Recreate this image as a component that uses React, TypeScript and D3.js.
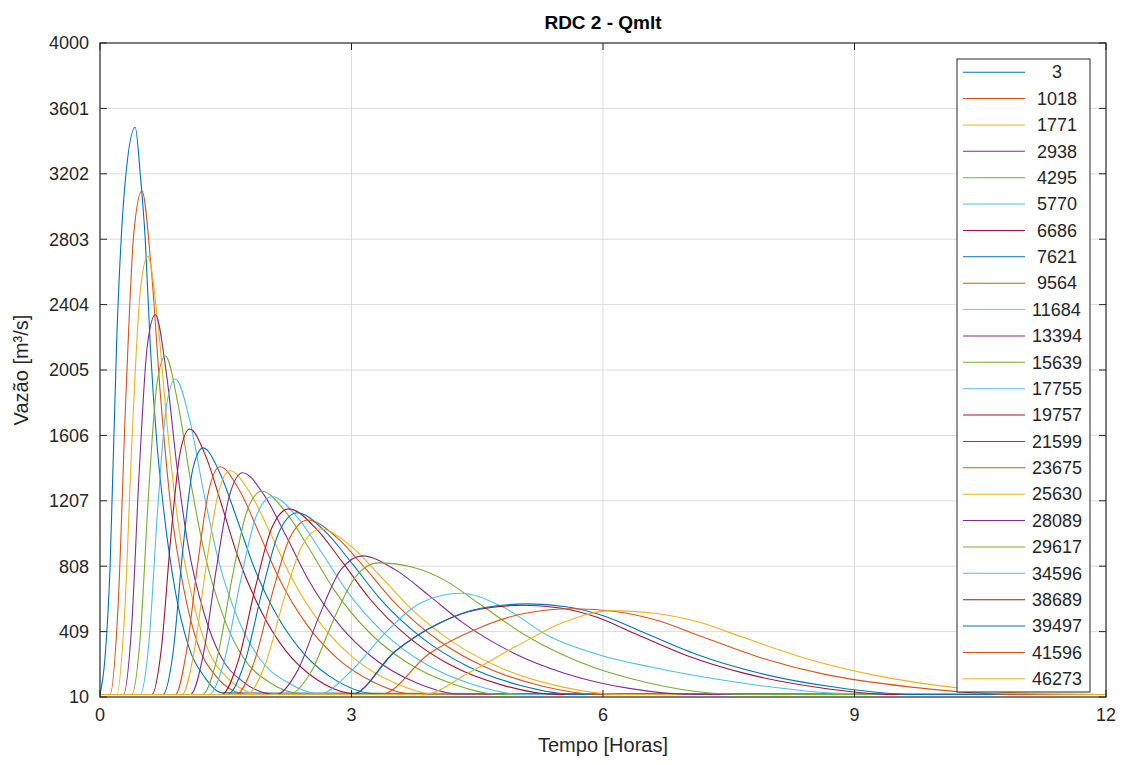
import React, { useEffect, useRef } from "react";
import * as d3 from "d3";

// legend labels (num2str pads them to the same width)
const seriesLabels = [
  "    3", " 1018", " 1771", " 2938", " 4295", " 5770", " 6686", " 7621",
  " 9564", "11684", "13394", "15639", "17755", "19757", "21599", "23675",
  "25630", "28089", "29617", "34596", "38689", "39497", "41596", "46273",
];

const xTicks = [0, 3, 6, 9, 12];
const yTicks = [10, 409, 808, 1207, 1606, 2005, 2404, 2803, 3202, 3601, 4000];

const lineColors = ["#0072BD", "#D95319", "#EDB120", "#7E2F8E", "#77AC30", "#4DBEEE", "#A2142F"];

type Pt = [number, number];

// [tempo (h), vazao (m3/s)]
const s1: Pt[] = [[0, 25], [0.06, 250], [0.12, 800], [0.2, 2200], [0.3, 3150], [0.42, 3486], [0.48, 3200], [0.54, 2800], [0.6, 2150], [0.68, 1550], [0.76, 1150], [0.9, 650], [1.05, 330], [1.25, 130], [1.46, 35], [12, 25]];
const s2: Pt[] = [[0, 25], [0.12, 25], [0.215, 557], [0.31, 1858], [0.405, 2849], [0.5, 3097], [0.61, 2632], [0.72, 1858], [0.83, 1239], [0.995, 681], [1.16, 341], [1.38, 139], [1.6, 46], [1.75, 25], [12, 25]];
const s3: Pt[] = [[0, 25], [0.2, 25], [0.29, 486], [0.385, 1620], [0.48, 2484], [0.57, 2700], [0.69, 2295], [0.81, 1620], [0.93, 1080], [1.11, 594], [1.29, 297], [1.53, 122], [1.77, 41], [1.9, 25], [12, 25]];
const s4: Pt[] = [[0, 25], [0.28, 25], [0.375, 422], [0.47, 1406], [0.565, 2156], [0.66, 2343], [0.79, 1992], [0.92, 1406], [1.05, 937], [1.245, 515], [1.44, 258], [1.7, 105], [1.96, 35], [2.1, 25], [12, 25]];
const s5: Pt[] = [[0, 25], [0.38, 25], [0.48, 376], [0.58, 1254], [0.68, 1923], [0.78, 2090], [0.93, 1800], [1.09, 1300], [1.25, 880], [1.48, 490], [1.71, 250], [2.02, 100], [2.33, 33], [2.5, 25], [12, 25]];
const s6: Pt[] = [[0, 25], [0.48, 25], [0.585, 351], [0.69, 1170], [0.795, 1794], [0.9, 1950], [1.07, 1700], [1.24, 1250], [1.41, 850], [1.66, 470], [1.91, 240], [2.25, 95], [2.58, 30], [2.75, 25], [12, 25]];
const s7: Pt[] = [[0, 25], [0.62, 25], [0.73, 296], [0.845, 987], [0.96, 1513], [1.07, 1645], [1.26, 1481], [1.45, 1184], [1.64, 872], [1.93, 526], [2.21, 296], [2.59, 115], [2.97, 33], [3.2, 25], [12, 25]];
const s8: Pt[] = [[0, 25], [0.75, 25], [0.87, 275], [0.99, 918], [1.11, 1408], [1.23, 1530], [1.43, 1377], [1.63, 1102], [1.83, 811], [2.13, 490], [2.43, 275], [2.83, 107], [3.23, 31], [3.4, 25], [12, 25]];
const s9: Pt[] = [[0, 25], [0.9, 25], [1.03, 283], [1.165, 821], [1.3, 1274], [1.43, 1415], [1.66, 1274], [1.89, 1019], [2.12, 750], [2.465, 453], [2.81, 255], [3.27, 99], [3.73, 28], [12, 25]];
const s10: Pt[] = [[0, 25], [0.98, 25], [1.12, 278], [1.265, 806], [1.41, 1251], [1.55, 1390], [1.795, 1251], [2.04, 1001], [2.285, 737], [2.65, 445], [3.02, 250], [3.51, 97], [4.0, 28], [12, 25]];
const s11: Pt[] = [[0, 25], [1.08, 25], [1.235, 276], [1.39, 799], [1.545, 1240], [1.7, 1378], [1.96, 1240], [2.22, 992], [2.48, 730], [2.87, 441], [3.26, 248], [3.78, 96], [4.3, 28], [12, 25]];
const s12: Pt[] = [[0, 25], [1.22, 25], [1.4, 253], [1.575, 734], [1.75, 1139], [1.93, 1265], [2.215, 1139], [2.5, 911], [2.785, 670], [3.21, 405], [3.64, 228], [4.21, 89], [4.78, 25], [12, 25]];
const s13: Pt[] = [[0, 25], [1.3, 25], [1.49, 246], [1.675, 715], [1.86, 1109], [2.05, 1232], [2.35, 1109], [2.65, 887], [2.95, 653], [3.4, 394], [3.85, 222], [4.45, 86], [5.05, 25], [12, 25]];
const s14: Pt[] = [[0, 25], [1.45, 25], [1.65, 232], [1.85, 672], [2.05, 1042], [2.25, 1158], [2.57, 1042], [2.89, 834], [3.21, 614], [3.69, 371], [4.17, 208], [4.81, 81], [5.45, 25], [12, 25]];
const s15: Pt[] = [[0, 25], [1.52, 25], [1.73, 227], [1.935, 658], [2.14, 1021], [2.35, 1134], [2.685, 1021], [3.02, 816], [3.355, 601], [3.86, 363], [4.36, 204], [5.03, 79], [5.7, 25], [12, 25]];
const s16: Pt[] = [[0, 25], [1.62, 25], [1.835, 218], [2.05, 632], [2.265, 981], [2.48, 1090], [2.83, 981], [3.18, 785], [3.53, 578], [4.055, 349], [4.58, 196], [5.28, 76], [5.98, 25], [12, 25]];
const s17: Pt[] = [[0, 25], [1.75, 25], [1.97, 207], [2.19, 600], [2.41, 932], [2.63, 1035], [2.99, 932], [3.35, 745], [3.71, 549], [4.25, 331], [4.79, 186], [5.51, 72], [6.23, 25], [12, 25]];
const s18: Pt[] = [[0, 25], [2.1, 25], [2.36, 174], [2.615, 505], [2.87, 784], [3.13, 871], [3.53, 784], [3.93, 627], [4.33, 462], [4.93, 279], [5.53, 157], [6.33, 61], [7.13, 25], [12, 25]];
const s19: Pt[] = [[0, 25], [2.25, 25], [2.52, 166], [2.785, 480], [3.05, 745], [3.32, 828], [3.72, 803], [4.12, 720], [4.52, 580], [5.12, 373], [5.72, 224], [6.52, 99], [7.32, 33], [7.8, 25], [12, 25]];
const s20: Pt[] = [[0, 25], [2.6, 25], [3.0, 170], [3.4, 400], [3.85, 590], [4.3, 643], [4.8, 560], [5.37, 377], [6.0, 260], [6.57, 193], [7.2, 132], [7.8, 85], [8.36, 50], [9.0, 30], [12, 25]];
const s21: Pt[] = [[0, 25], [3.0, 25], [3.51, 285], [4.03, 456], [4.54, 547], [5.05, 570], [5.49, 553], [5.93, 496], [6.37, 399], [7.03, 257], [7.69, 154], [8.57, 68], [9.45, 25], [12, 25]];
const s22: Pt[] = [[0, 25], [3.0, 25], [3.525, 289], [4.05, 462], [4.575, 555], [5.1, 578], [5.56, 561], [6.02, 503], [6.48, 405], [7.17, 260], [7.86, 156], [8.78, 69], [9.7, 25], [12, 25]];
const s23: Pt[] = [[0, 25], [3.35, 25], [3.925, 274], [4.5, 427], [5.075, 521], [5.65, 548], [6.15, 532], [6.65, 477], [7.15, 384], [7.9, 247], [8.65, 148], [9.65, 72], [10.65, 30], [11.2, 25], [12, 25]];
const s24: Pt[] = [[0, 25], [3.85, 25], [4.41, 161], [4.975, 322], [5.54, 467], [6.1, 537], [6.62, 521], [7.14, 467], [7.66, 376], [8.44, 242], [9.22, 145], [10.26, 64], [11.3, 28], [12, 25]];

const allSeries = [s1, s2, s3, s4, s5, s6, s7, s8, s9, s10, s11, s12, s13, s14, s15, s16, s17, s18, s19, s20, s21, s22, s23, s24];

const W = 1124;
const H = 765;
const margin = { top: 43, right: 18, bottom: 68, left: 100 };
const FONT = "'Liberation Sans', Arial, Helvetica, sans-serif";

export default function App() {
  const ref = useRef<SVGSVGElement>(null);

  useEffect(() => {
    const svg = d3.select(ref.current);
    svg.selectAll("*").remove();

    const width = W - margin.left - margin.right;
    const height = H - margin.top - margin.bottom;

    const x = d3.scaleLinear().domain([0, 12]).range([margin.left, margin.left + width]);
    const y = d3.scaleLinear().domain([10, 4000]).range([margin.top + height, margin.top]);

    svg.append("rect").attr("width", W).attr("height", H).attr("fill", "#ffffff");

    // grid
    const grid = svg.append("g");
    grid.selectAll("line.gx")
      .data(xTicks.slice(1, -1))
      .enter().append("line")
      .attr("x1", d => x(d)).attr("x2", d => x(d))
      .attr("y1", margin.top).attr("y2", margin.top + height)
      .attr("stroke", "#dcdcdc").attr("stroke-width", 1);
    grid.selectAll("line.gy")
      .data(yTicks.slice(1, -1))
      .enter().append("line")
      .attr("y1", d => y(d)).attr("y2", d => y(d))
      .attr("x1", margin.left).attr("x2", margin.left + width)
      .attr("stroke", "#dcdcdc").attr("stroke-width", 1);

    // curves
    const line = d3.line<Pt>()
      .x(d => x(d[0]))
      .y(d => y(d[1]))
      .curve(d3.curveMonotoneX);

    const plot = svg.append("g");
    allSeries.forEach((s, i) => {
      plot.append("path")
        .attr("d", line(s))
        .attr("fill", "none")
        .attr("stroke", lineColors[i % lineColors.length])
        .attr("stroke-width", 1.1);
    });

    // axes box + inward ticks
    svg.append("rect")
      .attr("x", margin.left).attr("y", margin.top)
      .attr("width", width).attr("height", height)
      .attr("fill", "none").attr("stroke", "#262626").attr("stroke-width", 1.2);

    const tickLen = 7;
    const ticks = svg.append("g").attr("stroke", "#262626").attr("stroke-width", 1);
    xTicks.forEach(t => {
      ticks.append("line").attr("x1", x(t)).attr("x2", x(t))
        .attr("y1", margin.top + height).attr("y2", margin.top + height - tickLen);
      ticks.append("line").attr("x1", x(t)).attr("x2", x(t))
        .attr("y1", margin.top).attr("y2", margin.top + tickLen);
    });
    yTicks.forEach(t => {
      ticks.append("line").attr("y1", y(t)).attr("y2", y(t))
        .attr("x1", margin.left).attr("x2", margin.left + tickLen);
      ticks.append("line").attr("y1", y(t)).attr("y2", y(t))
        .attr("x1", margin.left + width).attr("x2", margin.left + width - tickLen);
    });

    const labels = svg.append("g")
      .attr("font-family", FONT).attr("font-size", 18).attr("fill", "#262626");
    labels.selectAll("text.xt")
      .data(xTicks)
      .enter().append("text")
      .attr("x", d => x(d)).attr("y", margin.top + height + 24)
      .attr("text-anchor", "middle")
      .text(d => d);
    labels.selectAll("text.yt")
      .data(yTicks)
      .enter().append("text")
      .attr("x", margin.left - 11).attr("y", d => y(d))
      .attr("dy", "0.35em")
      .attr("text-anchor", "end")
      .text(d => d);

    svg.append("text")
      .attr("x", margin.left + width / 2).attr("y", H - 13)
      .attr("text-anchor", "middle")
      .attr("font-family", FONT).attr("font-size", 20).attr("fill", "#262626")
      .text("Tempo [Horas]");

    svg.append("text")
      .attr("transform", `translate(28, ${margin.top + height / 2}) rotate(-90)`)
      .attr("text-anchor", "middle")
      .attr("font-family", FONT).attr("font-size", 20).attr("fill", "#262626")
      .text("Vazão [m³/s]");

    svg.append("text")
      .attr("x", margin.left + width / 2).attr("y", 29)
      .attr("text-anchor", "middle")
      .attr("font-family", FONT).attr("font-size", 19).attr("font-weight", "bold")
      .attr("fill", "#000000")
      .text("RDC 2 - Qmlt");

    // legend
    const lg = { x: 957, y: 59, w: 133, h: 633 };
    const step = lg.h / seriesLabels.length;
    const legend = svg.append("g");
    legend.append("rect")
      .attr("x", lg.x).attr("y", lg.y).attr("width", lg.w).attr("height", lg.h)
      .attr("fill", "#ffffff").attr("stroke", "#262626").attr("stroke-width", 1);
    seriesLabels.forEach((lab, i) => {
      const cy = lg.y + step * (i + 0.5);
      legend.append("line")
        .attr("x1", lg.x + 6).attr("x2", lg.x + 68)
        .attr("y1", cy).attr("y2", cy)
        .attr("stroke", lineColors[i % lineColors.length]).attr("stroke-width", 1.1);
      legend.append("text")
        .attr("x", lg.x + 75).attr("y", cy)
        .attr("dy", "0.35em")
        .attr("font-family", FONT).attr("font-size", 18).attr("fill", "#262626")
        .style("white-space", "pre")
        .text(lab);
    });
  }, []);

  return (
    <div style={{ position: "absolute", left: 0, top: 0 }}>
      <svg ref={ref} width={W} height={H} />
    </div>
  );
}
